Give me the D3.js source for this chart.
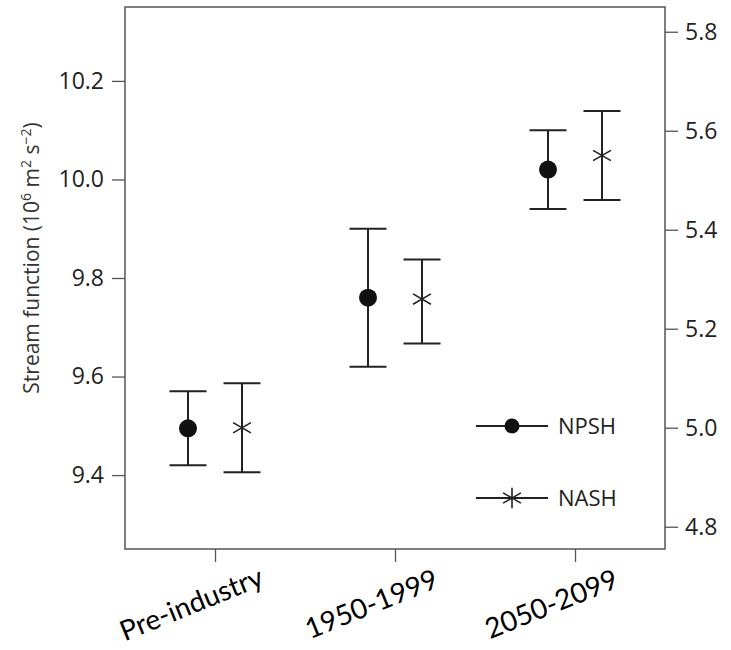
<!DOCTYPE html>
<html>
<head>
<meta charset="utf-8">
<script src="https://cdn.jsdelivr.net/npm/d3@7"></script>
<style>
  body { margin: 0; background: white; }
</style>
</head>
<body>
<div id="container"></div>
<script>
// Stream function error-bar chart, NPSH on left axis, NASH on right axis

const width = 731;
const height = 650;

const periods = ["Pre-industry", "1950-1999", "2050-2099"];

// NPSH (left axis)
const npshMean = [9.495, 9.76, 10.02];
const npshLow = [9.42, 9.62, 9.94];
const npshHigh = [9.57, 9.90, 10.10];

// NASH (right axis)
const nashMean = [5.00, 5.26, 5.55];
const nashLow = [4.91, 5.17, 5.46];
const nashHigh = [5.09, 5.34, 5.64];

const leftTicks = [9.4, 9.6, 9.8, 10.0, 10.2];
const rightTicks = [4.8, 5.0, 5.2, 5.4, 5.6, 5.8];
const seriesNames = ["NPSH", "NASH"];

const frame = { left: 125, right: 665, top: 7, bottom: 549 };

const svg = d3.select("#container")
    .append("svg")
    .attr("width", width)
    .attr("height", height)
    .style("background-color", "white");

const x = d3.scalePoint()
    .domain(periods)
    .range([frame.left, frame.right])
    .padding(0.5);

const yLeft = d3.scaleLinear()
    .domain([9.25, 10.35])
    .range([frame.bottom, frame.top]);

const yRight = d3.scaleLinear()
    .domain([4.755, 5.85])
    .range([frame.bottom, frame.top]);

const tickFont = "'Open Sans', 'Noto Sans', sans-serif";
const axisColor = "#555";

// axes
const leftAxis = svg.append("g")
    .attr("transform", `translate(${frame.left},0)`)
    .call(d3.axisLeft(yLeft).tickValues(leftTicks).tickFormat(d3.format(".1f"))
        .tickSize(13).tickPadding(8));

const rightAxis = svg.append("g")
    .attr("transform", `translate(${frame.right},0)`)
    .call(d3.axisRight(yRight).tickValues(rightTicks).tickFormat(d3.format(".1f"))
        .tickSize(13).tickPadding(7));

const bottomAxis = svg.append("g")
    .attr("transform", `translate(0,${frame.bottom})`)
    .call(d3.axisBottom(x).tickSize(13).tickFormat(""));

[leftAxis, rightAxis, bottomAxis].forEach(g => {
    g.select(".domain").remove();
    g.selectAll(".tick line").attr("stroke", axisColor).attr("stroke-width", 1.3);
    g.selectAll(".tick text")
        .style("font-family", tickFont)
        .style("font-size", "23px")
        .attr("fill", "#222");
});

// frame
svg.append("rect")
    .attr("x", frame.left)
    .attr("y", frame.top)
    .attr("width", frame.right - frame.left)
    .attr("height", frame.bottom - frame.top)
    .attr("fill", "none")
    .attr("stroke", axisColor)
    .attr("stroke-width", 1.5);

// category labels, rotated
svg.append("g")
    .selectAll("text")
    .data(periods)
    .join("text")
    .attr("transform", d => `translate(${x(d) - 20},${613}) rotate(-22)`)
    .attr("text-anchor", "middle")
    .style("font-family", "Lato, 'Open Sans', sans-serif")
    .style("font-size", "28px")
    .attr("fill", "#000")
    .text(d => d);

// y axis title
svg.append("text")
    .attr("transform", `translate(39,${(frame.top + frame.bottom) / 2 - 20}) rotate(-90)`)
    .attr("text-anchor", "middle")
    .style("font-family", tickFont)
    .style("font-size", "21px")
    .attr("fill", "#333")
    .html("Stream function (10<tspan dy='-8' font-size='14px'>6</tspan><tspan dy='8'> m</tspan><tspan dy='-8' font-size='14px'>2</tspan><tspan dy='8'> s</tspan><tspan dy='-8' font-size='14px'>\u22122</tspan><tspan dy='8'>)</tspan>");

const offset = 27;
const capHalf = 18.5;
const barColor = "#222";

const npsh = periods.map((p, i) => ({ p, mean: npshMean[i], lo: npshLow[i], hi: npshHigh[i] }));
const nash = periods.map((p, i) => ({ p, mean: nashMean[i], lo: nashLow[i], hi: nashHigh[i] }));

function drawErrorBars(data, scale, dx) {
    const g = svg.append("g")
        .attr("stroke", barColor)
        .attr("stroke-width", 2);
    g.selectAll(".whisker")
        .data(data)
        .join("line")
        .attr("x1", d => x(d.p) + dx)
        .attr("x2", d => x(d.p) + dx)
        .attr("y1", d => scale(d.lo))
        .attr("y2", d => scale(d.hi));
    g.selectAll(".capHi")
        .data(data)
        .join("line")
        .attr("x1", d => x(d.p) + dx - capHalf)
        .attr("x2", d => x(d.p) + dx + capHalf)
        .attr("y1", d => scale(d.hi))
        .attr("y2", d => scale(d.hi));
    g.selectAll(".capLo")
        .data(data)
        .join("line")
        .attr("x1", d => x(d.p) + dx - capHalf)
        .attr("x2", d => x(d.p) + dx + capHalf)
        .attr("y1", d => scale(d.lo))
        .attr("y2", d => scale(d.lo));
}

const star = d3.symbol().type(d3.symbolAsterisk).size(300);

drawErrorBars(npsh, yLeft, -offset);
drawErrorBars(nash, yRight, offset);

svg.append("g")
    .selectAll("circle")
    .data(npsh)
    .join("circle")
    .attr("cx", d => x(d.p) - offset)
    .attr("cy", d => yLeft(d.mean))
    .attr("r", 9)
    .attr("fill", "#111");

svg.append("g")
    .selectAll("path")
    .data(nash)
    .join("path")
    .attr("transform", d => `translate(${x(d.p) + offset},${yRight(d.mean)})`)
    .attr("d", star)
    .attr("fill", "none")
    .attr("stroke", "#222")
    .attr("stroke-width", 1.6);

// legend
const legend = svg.append("g")
    .attr("transform", "translate(476, 426)");

seriesNames.forEach((name, i) => {
    const g = legend.append("g")
        .attr("transform", `translate(0, ${i * 72})`);

    g.append("line")
        .attr("x1", 0)
        .attr("x2", 72)
        .attr("stroke", barColor)
        .attr("stroke-width", 2);

    if (name === "NPSH") {
        g.append("circle")
            .attr("cx", 36)
            .attr("r", 7.5)
            .attr("fill", "#111");
    } else {
        g.append("path")
            .attr("transform", "translate(36,0)")
            .attr("d", star)
            .attr("fill", "none")
            .attr("stroke", "#222")
            .attr("stroke-width", 1.6);
    }

    g.append("text")
        .attr("x", 82)
        .attr("y", 8)
        .text(name)
        .style("font-family", tickFont)
        .style("font-size", "22px")
        .attr("fill", "#222");
});
</script>
</body>
</html>
